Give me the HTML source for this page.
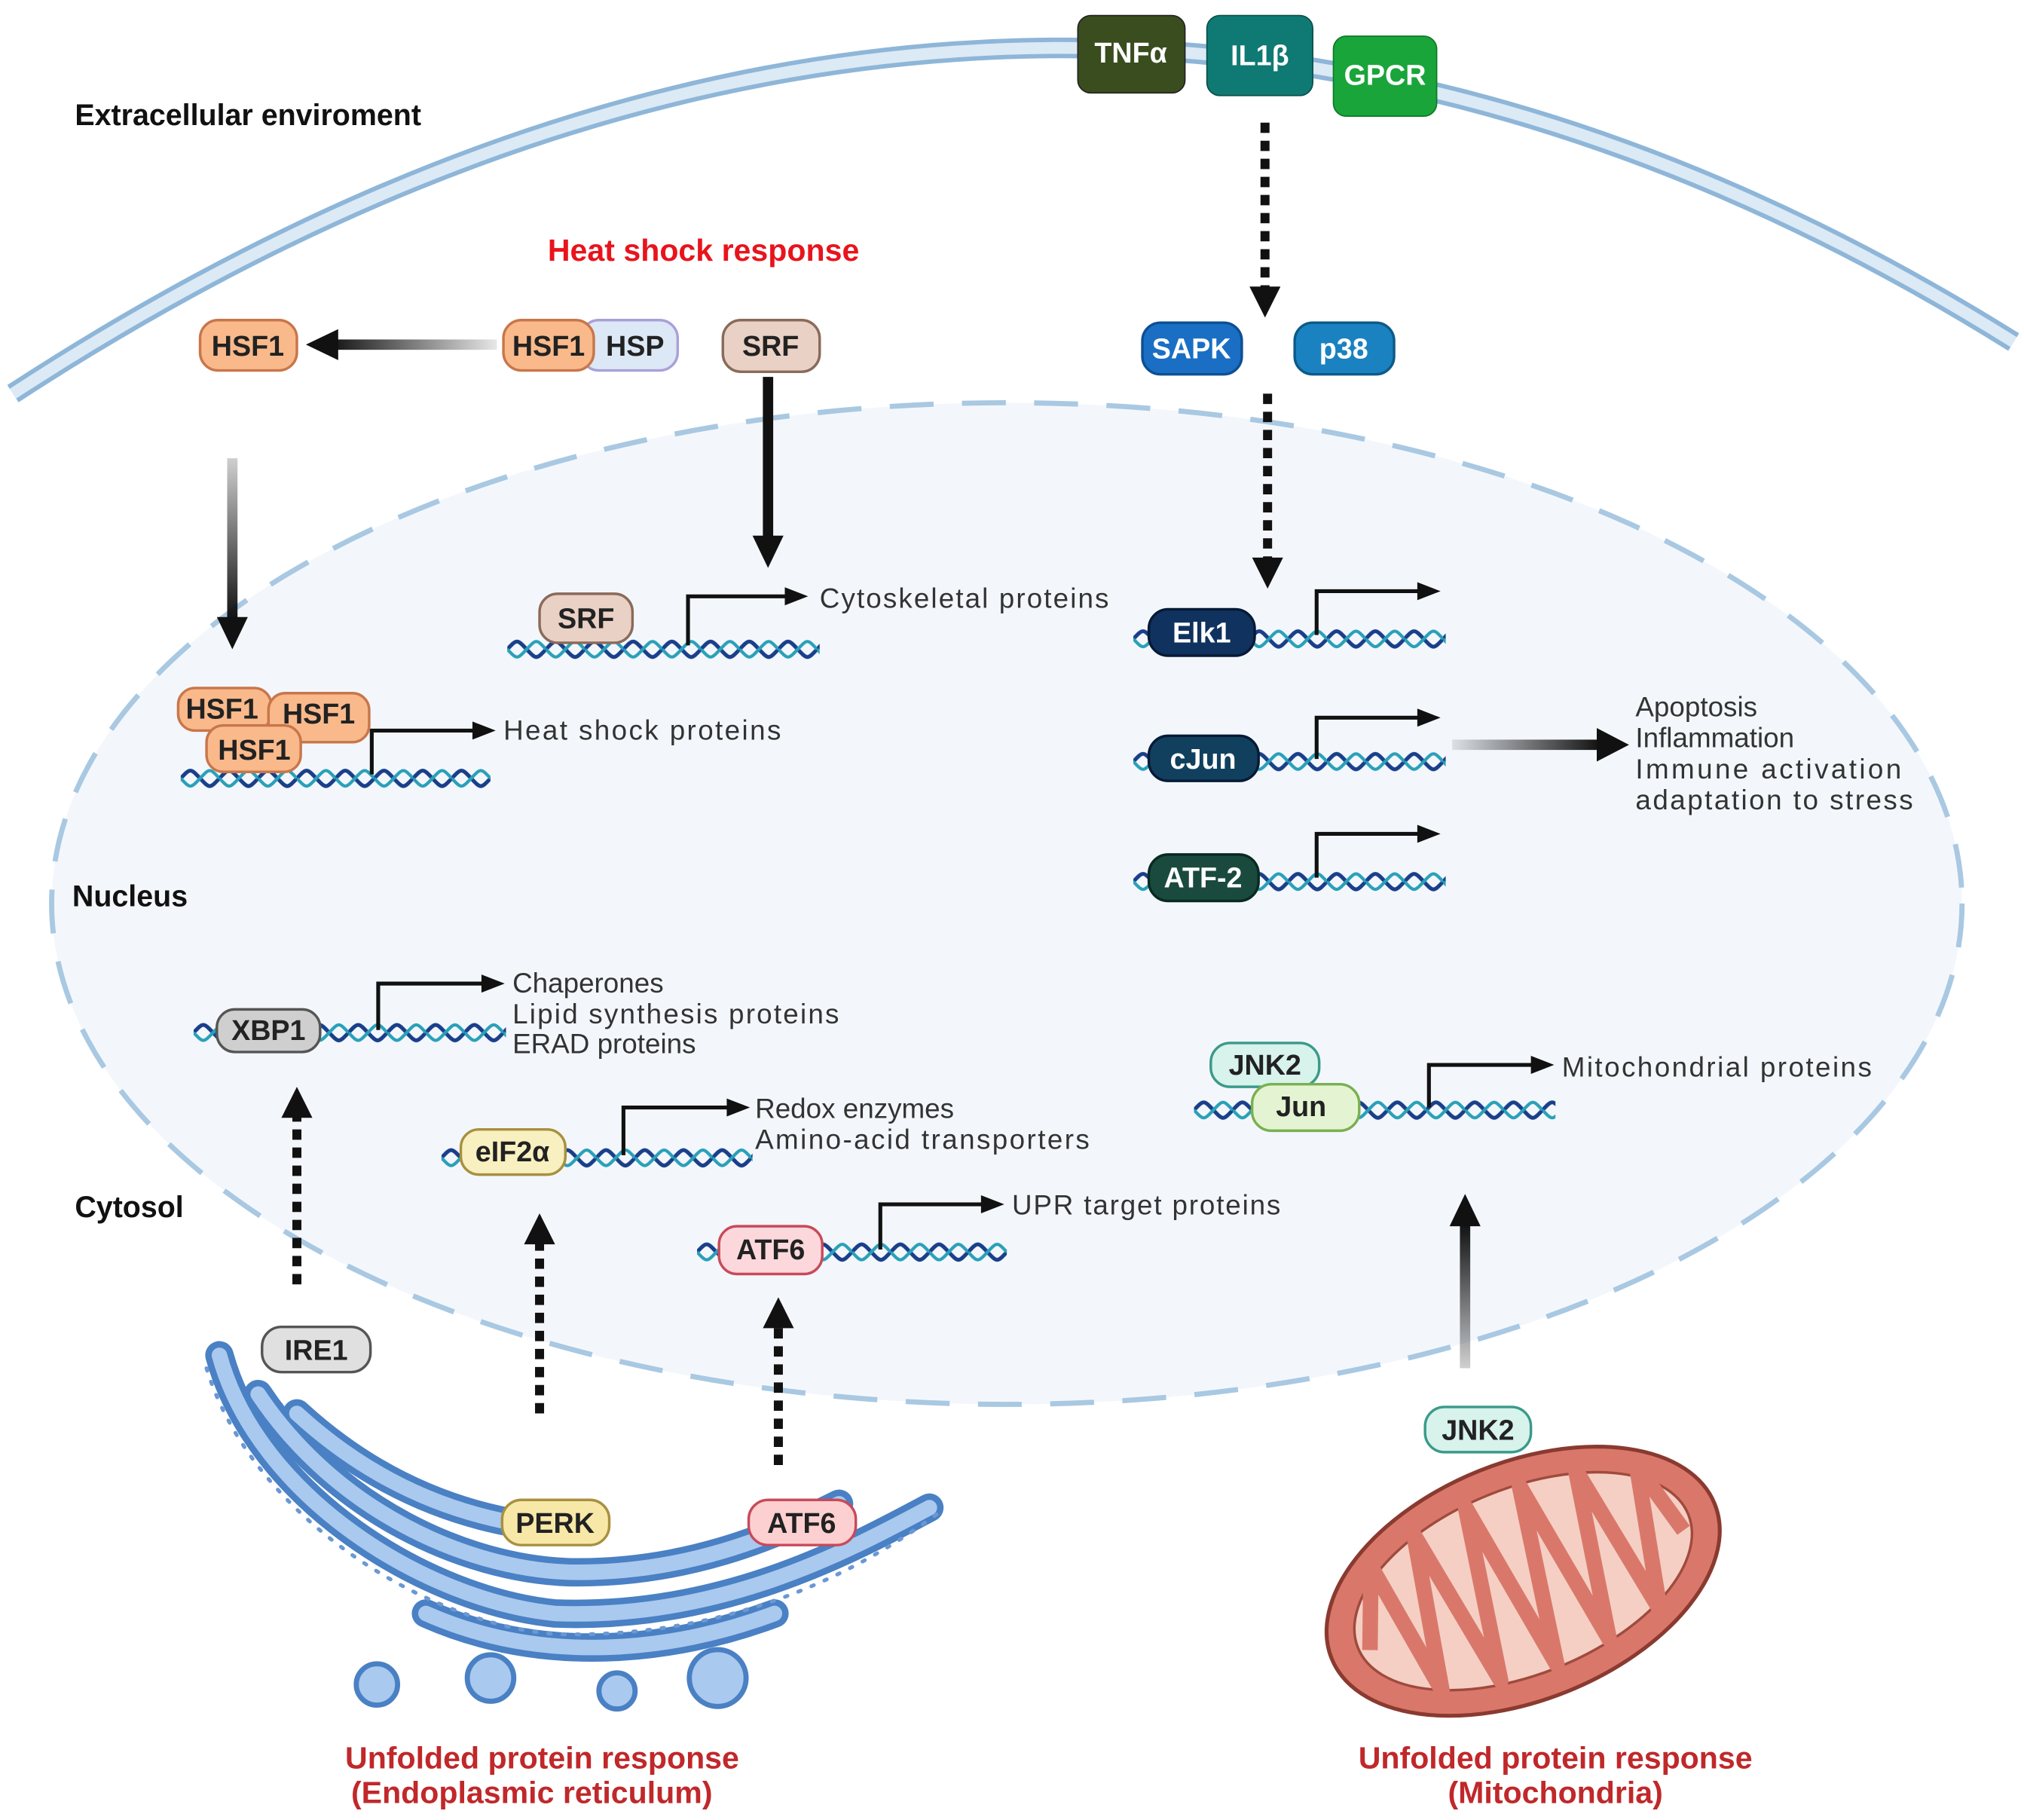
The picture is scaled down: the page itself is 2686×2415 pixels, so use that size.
<!DOCTYPE html>
<html><head><meta charset="utf-8"><style>
html,body{margin:0;padding:0;background:#fff}
svg{display:block}
text{font-family:"Liberation Sans",sans-serif}
.p{font-weight:bold;font-size:22px;text-anchor:middle;dominant-baseline:central}
.t{font-size:21.5px;fill:#333}
.b{font-weight:bold;font-size:23px;fill:#111}
.r{font-weight:bold;font-size:24px;fill:#c0282a;text-anchor:middle}
.pr{fill:none;stroke:#111;stroke-width:3}
</style></head><body>
<svg width="2686" height="2415" viewBox="0 0 1568 1410" preserveAspectRatio="none" xmlns="http://www.w3.org/2000/svg">
<defs>
<pattern id="dna" patternUnits="userSpaceOnUse" width="30" height="20" x="0" y="0">
<path d="M0,10 C7.5,2 7.5,2 15,10 S22.5,18 30,10" fill="none" stroke="#1a3f8a" stroke-width="3"/>
<path d="M0,10 C7.5,18 7.5,18 15,10 S22.5,2 30,10" fill="none" stroke="#2aa0b8" stroke-width="2.5"/>
</pattern>
<linearGradient id="fadeR" x1="0" x2="1"><stop offset="0" stop-color="#111" stop-opacity="0.1"/><stop offset="1" stop-color="#111"/></linearGradient>
<linearGradient id="fadeD" x1="0" y1="0" x2="0" y2="1"><stop offset="0" stop-color="#111" stop-opacity="0.2"/><stop offset="1" stop-color="#111"/></linearGradient>
<linearGradient id="fadeU" x1="0" y1="1" x2="0" y2="0"><stop offset="0" stop-color="#111" stop-opacity="0.2"/><stop offset="1" stop-color="#111"/></linearGradient>
</defs>
<!-- membrane -->
<path d="M10,305 Q800,-210 1560,265" fill="none" stroke="#8eb6d8" stroke-width="16"/>
<path d="M10,305 Q800,-210 1560,265" fill="none" stroke="#dceaf6" stroke-width="9"/>
<!-- nucleus -->
<ellipse cx="780" cy="700" rx="740" ry="388" fill="#f3f7fc" stroke="#a9c8e2" stroke-width="4" stroke-dasharray="34,22"/>
<text class="b" x="58" y="97">Extracellular enviroment</text>
<text class="b" x="56" y="702">Nucleus</text>
<text class="b" x="58" y="943">Cytosol</text>
<text x="545" y="202" style="font-weight:bold;font-size:24px;fill:#e8141c;text-anchor:middle">Heat shock response</text>
<!-- receptors -->
<rect x="835" y="12" width="83" height="60" rx="10" fill="#3a4d1e" stroke="#222"/><text class="p" x="876" y="41" fill="#fff">TNFα</text>
<rect x="935" y="12" width="82" height="62" rx="10" fill="#0f7a73" stroke="#0a4f4a"/><text class="p" x="976" y="43" fill="#fff">IL1β</text>
<rect x="1033" y="28" width="80" height="62" rx="10" fill="#1aa53a" stroke="#0e7a28"/><text class="p" x="1073" y="58" fill="#fff">GPCR</text>
<!-- arrows -->
<line x1="980" y1="95" x2="980" y2="228" stroke="#111" stroke-width="7" stroke-dasharray="8,6"/><path d="M968,222 L992,222 L980,246z" fill="#111"/>
<line x1="982" y1="305" x2="982" y2="436" stroke="#111" stroke-width="7" stroke-dasharray="8,6"/><path d="M970,432 L994,432 L982,456z" fill="#111"/>
<rect x="255" y="263" width="130" height="8" fill="url(#fadeR)" transform="rotate(180 320 267)"/><path d="M262,255 L262,279 L237,267z" fill="#111"/>
<rect x="176" y="355" width="8" height="125" fill="url(#fadeD)"/><path d="M168,478 L192,478 L180,503z" fill="#111"/>
<rect x="591" y="292" width="8" height="125" fill="#111"/><path d="M583,415 L607,415 L595,440z" fill="#111"/>
<rect x="1125" y="573" width="115" height="8" fill="url(#fadeR)"/><path d="M1237,564 L1237,590 L1262,577z" fill="#111"/>
<line x1="230" y1="995" x2="230" y2="862" stroke="#111" stroke-width="7" stroke-dasharray="8,6"/><path d="M218,866 L242,866 L230,842z" fill="#111"/>
<line x1="418" y1="1095" x2="418" y2="960" stroke="#111" stroke-width="7" stroke-dasharray="8,6"/><path d="M406,964 L430,964 L418,940z" fill="#111"/>
<line x1="603" y1="1135" x2="603" y2="1025" stroke="#111" stroke-width="7" stroke-dasharray="8,6"/><path d="M591,1029 L615,1029 L603,1005z" fill="#111"/>
<rect x="1131" y="948" width="8" height="112" fill="url(#fadeU)"/><path d="M1123,950 L1147,950 L1135,925z" fill="#111"/>
<!-- cytosol pills -->
<rect x="155" y="248" width="75" height="39" rx="14" fill="#f9b98b" stroke="#c8764a" stroke-width="2"/><text class="p" x="192" y="268" fill="#222">HSF1</text>
<rect x="450" y="248" width="75" height="39" rx="14" fill="#dde8f6" stroke="#a9a0d8" stroke-width="2"/><text class="p" x="492" y="268" fill="#222">HSP</text>
<rect x="390" y="248" width="70" height="39" rx="14" fill="#f9b98b" stroke="#c8764a" stroke-width="2"/><text class="p" x="425" y="268" fill="#222">HSF1</text>
<rect x="560" y="248" width="75" height="40" rx="14" fill="#ead1c5" stroke="#8a6a5a" stroke-width="2"/><text class="p" x="597" y="268" fill="#222">SRF</text>
<rect x="885" y="250" width="77" height="40" rx="14" fill="#1a6fc4" stroke="#0d4f94" stroke-width="2"/><text class="p" x="923" y="270" fill="#fff">SAPK</text>
<rect x="1003" y="250" width="77" height="40" rx="14" fill="#1a82c0" stroke="#0d5a8a" stroke-width="2"/><text class="p" x="1041" y="270" fill="#fff">p38</text>
<!-- DNA strands -->
<g transform="translate(393,493)"><rect width="242" height="20" fill="url(#dna)"/></g>
<g transform="translate(878,485)"><rect width="242" height="20" fill="url(#dna)"/></g>
<g transform="translate(878,580)"><rect width="242" height="20" fill="url(#dna)"/></g>
<g transform="translate(878,673)"><rect width="242" height="20" fill="url(#dna)"/></g>
<g transform="translate(140,593)"><rect width="240" height="20" fill="url(#dna)"/></g>
<g transform="translate(150,790)"><rect width="242" height="20" fill="url(#dna)"/></g>
<g transform="translate(342,887)"><rect width="241" height="20" fill="url(#dna)"/></g>
<g transform="translate(540,960)"><rect width="240" height="20" fill="url(#dna)"/></g>
<g transform="translate(925,850)"><rect width="280" height="20" fill="url(#dna)"/></g>
<!-- promoters -->
<path class="pr" d="M533,500 V462 H610"/><path d="M608,455 L626,462 L608,469z" fill="#111"/>
<path class="pr" d="M1020,492 V458 H1100"/><path d="M1098,451 L1116,458 L1098,465z" fill="#111"/>
<path class="pr" d="M1020,588 V556 H1100"/><path d="M1098,549 L1116,556 L1098,563z" fill="#111"/>
<path class="pr" d="M1020,680 V646 H1100"/><path d="M1098,639 L1116,646 L1098,653z" fill="#111"/>
<path class="pr" d="M288,600 V566 H368"/><path d="M366,559 L384,566 L366,573z" fill="#111"/>
<path class="pr" d="M293,798 V762 H375"/><path d="M373,755 L391,762 L373,769z" fill="#111"/>
<path class="pr" d="M483,895 V858 H565"/><path d="M563,851 L581,858 L563,865z" fill="#111"/>
<path class="pr" d="M682,968 V933 H762"/><path d="M760,926 L778,933 L760,940z" fill="#111"/>
<path class="pr" d="M1107,858 V825 H1188"/><path d="M1186,818 L1204,825 L1186,832z" fill="#111"/>
<!-- nuclear pills -->
<rect x="418" y="460" width="72" height="38" rx="14" fill="#ead1c5" stroke="#8a6a5a" stroke-width="2"/><text class="p" x="454" y="479" fill="#222">SRF</text>
<rect x="890" y="472" width="82" height="36" rx="15" fill="#10325e" stroke="#061a36" stroke-width="2"/><text class="p" x="931" y="490" fill="#fff">Elk1</text>
<rect x="890" y="570" width="85" height="35" rx="15" fill="#10405e" stroke="#061a36" stroke-width="2"/><text class="p" x="932" y="588" fill="#fff">cJun</text>
<rect x="890" y="662" width="85" height="36" rx="15" fill="#1a4a3e" stroke="#0a2a20" stroke-width="2"/><text class="p" x="932" y="680" fill="#fff">ATF-2</text>
<rect x="138" y="533" width="72" height="33" rx="13" fill="#f9b98b" stroke="#c8764a" stroke-width="2"/><text class="p" x="172" y="549" fill="#222">HSF1</text>
<rect x="208" y="537" width="78" height="38" rx="13" fill="#f9b98b" stroke="#c8764a" stroke-width="2"/><text class="p" x="247" y="553" fill="#222">HSF1</text>
<rect x="160" y="562" width="73" height="36" rx="13" fill="#f9b98b" stroke="#c8764a" stroke-width="2"/><text class="p" x="197" y="581" fill="#222">HSF1</text>
<rect x="168" y="782" width="80" height="33" rx="14" fill="#cfcfcf" stroke="#555" stroke-width="2"/><text class="p" x="208" y="798" fill="#222">XBP1</text>
<rect x="357" y="875" width="81" height="35" rx="14" fill="#f8f0c0" stroke="#a89040" stroke-width="2"/><text class="p" x="397" y="892" fill="#222">eIF2α</text>
<rect x="557" y="950" width="80" height="37" rx="14" fill="#fcd8dc" stroke="#c84a5a" stroke-width="2"/><text class="p" x="597" y="968" fill="#222">ATF6</text>
<rect x="938" y="808" width="84" height="34" rx="15" fill="#d8f2ec" stroke="#3a9a8a" stroke-width="2"/><text class="p" x="980" y="825" fill="#222">JNK2</text>
<rect x="970" y="840" width="83" height="36" rx="15" fill="#e4f4d2" stroke="#7ab050" stroke-width="2"/><text class="p" x="1008" y="857" fill="#222">Jun</text>
<!-- nuclear texts -->
<text class="t" x="635" y="471" textLength="224">Cytoskeletal proteins</text>
<text class="t" x="390" y="573" textLength="215">Heat shock proteins</text>
<text class="t" x="397" y="769">Chaperones</text>
<text class="t" x="397" y="793" textLength="253">Lipid synthesis proteins</text>
<text class="t" x="397" y="816">ERAD proteins</text>
<text class="t" x="585" y="866">Redox enzymes</text>
<text class="t" x="585" y="890" textLength="259">Amino-acid transporters</text>
<text class="t" x="784" y="941" textLength="208">UPR target proteins</text>
<text class="t" x="1210" y="834" textLength="240">Mitochondrial proteins</text>
<text class="t" x="1267" y="555">Apoptosis</text>
<text class="t" x="1267" y="579">Inflammation</text>
<text class="t" x="1267" y="603" textLength="206">Immune  activation</text>
<text class="t" x="1267" y="627" textLength="215">adaptation to stress</text>
<!-- ER -->
<g fill="none" stroke-linecap="round">
<g stroke="#4a80c4" stroke-width="22">
<path d="M170,1050 C200,1160 330,1240 430,1250 C560,1255 660,1200 720,1168"/>
<path d="M200,1080 C260,1170 360,1215 440,1218 C530,1220 600,1190 650,1165"/>
<path d="M230,1095 C290,1150 360,1180 440,1185"/>
<path d="M330,1250 C420,1290 520,1280 600,1250"/>
</g>
<g stroke="#a9c9ee" stroke-width="12">
<path d="M170,1050 C200,1160 330,1240 430,1250 C560,1255 660,1200 720,1168"/>
<path d="M200,1080 C260,1170 360,1215 440,1218 C530,1220 600,1190 650,1165"/>
<path d="M230,1095 C290,1150 360,1180 440,1185"/>
<path d="M330,1250 C420,1290 520,1280 600,1250"/>
</g>
<path d="M160,1060 C195,1175 330,1258 430,1266 C570,1270 670,1215 730,1170" stroke="#6a98d4" stroke-width="3" stroke-dasharray="2,9"/>
</g>
<g fill="#a9c9ee" stroke="#4a80c4" stroke-width="4">
<circle cx="292" cy="1305" r="16"/><circle cx="380" cy="1300" r="18"/><circle cx="478" cy="1310" r="14"/><circle cx="556" cy="1300" r="22"/>
</g>
<rect x="203" y="1028" width="84" height="35" rx="15" fill="#e0e0e0" stroke="#555" stroke-width="2"/><text class="p" x="245" y="1046" fill="#222">IRE1</text>
<rect x="389" y="1162" width="83" height="35" rx="15" fill="#f8e8a8" stroke="#a89040" stroke-width="2"/><text class="p" x="430" y="1180" fill="#222">PERK</text>
<rect x="580" y="1162" width="83" height="35" rx="15" fill="#fcd0d0" stroke="#c84a5a" stroke-width="2"/><text class="p" x="621" y="1180" fill="#222">ATF6</text>
<!-- mito -->
<g transform="rotate(-22 1180 1225)">
<ellipse cx="1180" cy="1225" rx="160" ry="92" fill="#d9786a" stroke="#8a3a30" stroke-width="3"/>
<ellipse cx="1180" cy="1225" rx="138" ry="72" fill="#f5cfc4" stroke="#a04a3e" stroke-width="2"/>
<path d="M1050,1230 L1075,1170 L1090,1280 L1115,1160 L1135,1290 L1160,1155 L1180,1295 L1205,1155 L1225,1292 L1250,1160 L1270,1285 L1295,1175 L1310,1235" fill="none" stroke="#d9786a" stroke-width="12" stroke-linejoin="round"/>
</g>
<rect x="1104" y="1090" width="82" height="35" rx="15" fill="#d8f2ec" stroke="#3a9a8a" stroke-width="2"/><text class="p" x="1145" y="1108" fill="#222">JNK2</text>
<!-- bottom -->
<text class="r" x="420" y="1370">Unfolded protein response</text>
<text class="r" x="412" y="1397">(Endoplasmic reticulum)</text>
<text class="r" x="1205" y="1370">Unfolded protein response</text>
<text class="r" x="1205" y="1397">(Mitochondria)</text>
</svg>
</body></html>
